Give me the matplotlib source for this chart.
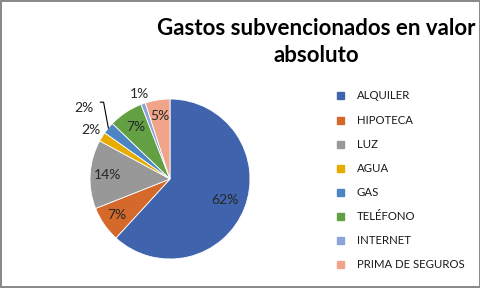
import numpy as np
import matplotlib.pyplot as plt

categories = ['ALQUILER', 'HIPOTECA', 'LUZ', 'AGUA', 'GAS', 'TELÉFONO', 'INTERNET', 'PRIMA DE SEGUROS']
values = [61.8, 7.2, 13.9, 1.9, 2.4, 6.9, 0.9, 5.0]
pct_labels = ['62%', '7%', '14%', '2%', '2%', '7%', '1%', '5%']
colors = ['#3F64AD', '#D5692B', '#989898', '#E7AC00', '#4C85C4', '#62A043', '#8CA5D9', '#F0A58A']
# radial position of each percentage label (fraction of radius)
label_dist = [0.74, 0.80, 0.78, 1.17, 1.40, 0.78, 1.13, 0.80]

plt.rcParams['font.family'] = ['Lato', 'DejaVu Sans']

fig = plt.figure(figsize=(4.81, 2.88), dpi=100, linewidth=1.5, edgecolor='#8a8a8a')

fig.text(316 / 481, 1 - 42 / 288, 'Gastos subvencionados en valor\nabsoluto', ha='center', va='center',
         fontsize=16, fontweight='bold', linespacing=1.32)

ax = fig.add_axes([90 / 481, 29 / 288, 160 / 481, 160 / 288])
wedges, _ = ax.pie(values, colors=colors, startangle=90, counterclock=False,
                   wedgeprops=dict(edgecolor='white', linewidth=0.6))
ax.set_xlim(-1, 1)
ax.set_ylim(-1, 1)
ax.set_aspect('equal')
ax.axis('off')

for w, lab, d in zip(wedges, pct_labels, label_dist):
    ang = np.deg2rad((w.theta1 + w.theta2) / 2)
    x, y = d * np.cos(ang), d * np.sin(ang)
    ax.text(x, y, lab, ha='center', va='center', fontsize=10, color='#262626', clip_on=False)

# leader line for the GAS label
gas = wedges[4]
ang = np.deg2rad((gas.theta1 + gas.theta2) / 2)
px, py = np.cos(ang), np.sin(ang)
ax.plot([px, -0.83, -0.87], [py, 0.96, 0.96], color='black', lw=0.8, clip_on=False)

# legend
y0 = 96
for i, (c, name) in enumerate(zip(colors, categories)):
    y = 1 - (y0 + i * 24.1) / 288
    fig.patches.append(plt.Rectangle((337 / 481, y - 3.5 / 288), 7 / 481, 7 / 288,
                                     transform=fig.transFigure, color=c))
    fig.text(357 / 481, y, name, ha='left', va='center', fontsize=8.2, color='#1a1a1a')

fig.savefig('out.png', dpi=100)
